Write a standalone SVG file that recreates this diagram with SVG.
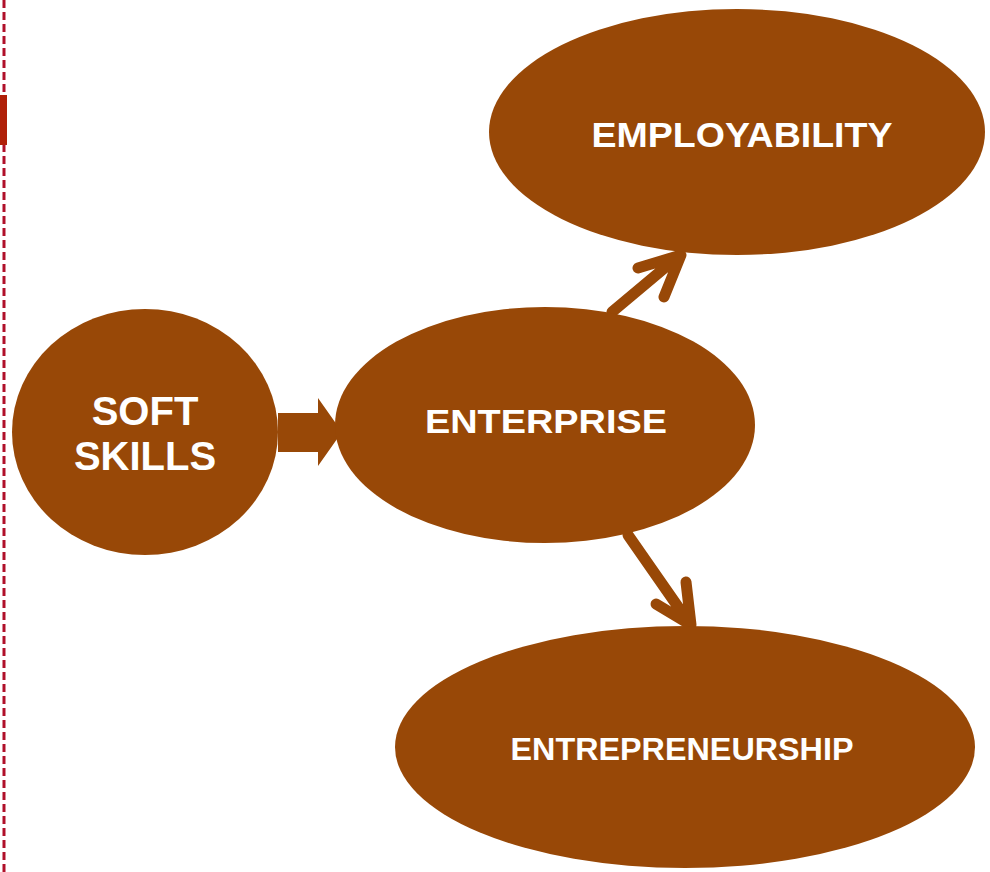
<svg xmlns="http://www.w3.org/2000/svg" width="990" height="872" viewBox="0 0 990 872">
<defs>
<style>
.node{fill:#984807;}
.lbl{fill:#ffffff;font-family:"Liberation Sans",Arial,sans-serif;font-weight:bold;text-anchor:middle;}
.conn{stroke:#984807;stroke-width:11;stroke-linecap:round;stroke-linejoin:round;fill:none;}
</style>
</defs>
<rect width="990" height="872" fill="#ffffff"/>
<line x1="4" y1="0" x2="4" y2="872" stroke="#b0102a" stroke-width="3" stroke-dasharray="8,4"/>
<rect x="0" y="95" width="7" height="50" fill="#b02008"/>
<g id="connectors">
<polygon class="node" points="278,413 318,413 318,398 342,432 318,466 318,452 278,452"/>
<path class="conn" d="M612,312 L680,255 M638,268 L681,255 L664,297"/>
<path class="conn" d="M628,535 L690,624 M656,604 L691,625 L686,582"/>
</g>
<g id="soft-skills">
<ellipse class="node" cx="145" cy="432" rx="133" ry="123"/>
<text class="lbl" x="145" y="425" font-size="40">SOFT</text>
<text class="lbl" x="145" y="470" font-size="40">SKILLS</text>
</g>
<g id="enterprise">
<ellipse class="node" cx="545" cy="425" rx="210" ry="118"/>
<text class="lbl" x="546" y="433" font-size="34" textLength="242" lengthAdjust="spacingAndGlyphs">ENTERPRISE</text>
</g>
<g id="employability">
<ellipse class="node" cx="737" cy="132" rx="248" ry="123"/>
<text class="lbl" x="742" y="147" font-size="35" textLength="301" lengthAdjust="spacingAndGlyphs">EMPLOYABILITY</text>
</g>
<g id="entrepreneurship">
<ellipse class="node" cx="685" cy="747" rx="290" ry="121"/>
<text class="lbl" x="682" y="760" font-size="32" textLength="343" lengthAdjust="spacingAndGlyphs">ENTREPRENEURSHIP</text>
</g>
</svg>
